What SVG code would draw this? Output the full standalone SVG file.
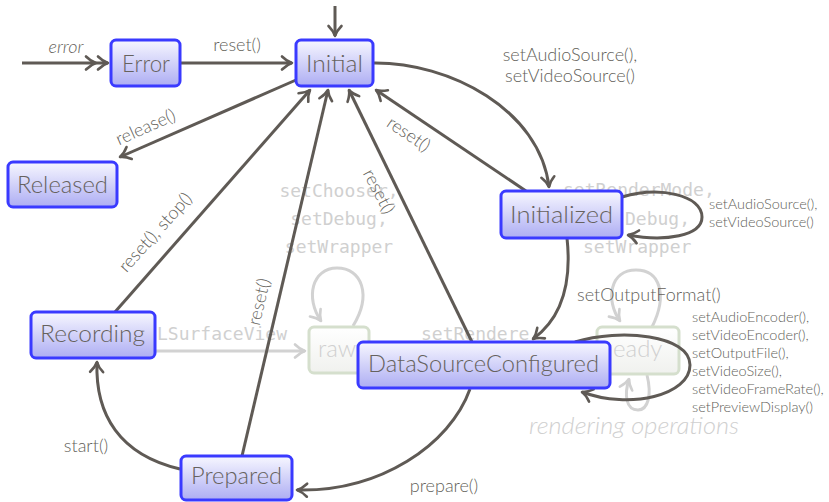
<svg xmlns="http://www.w3.org/2000/svg" width="829" height="502" viewBox="0 0 829 502">
  <defs>
    <linearGradient id="nodeFill" x1="0" y1="0" x2="0" y2="1">
      <stop offset="0" stop-color="#f7f7ff"/>
      <stop offset="1" stop-color="#adadf3"/>
    </linearGradient>
    <linearGradient id="ghostFill" x1="0" y1="0" x2="0" y2="1">
      <stop offset="0" stop-color="#ffffff"/>
      <stop offset="1" stop-color="#f0f1ee"/>
    </linearGradient>
    <marker id="arrow" markerUnits="userSpaceOnUse" markerWidth="20" markerHeight="20" viewBox="-14 -10 18 20" refX="0" refY="0" orient="auto">
      <path d="M -10 -6.5 Q -5 -1.5 0 0 Q -5 1.5 -10 6.5" fill="none" stroke="#5f5a55" stroke-width="2.6" stroke-linecap="round" stroke-linejoin="round"/>
    </marker>
    <marker id="arrowFaint" markerUnits="userSpaceOnUse" markerWidth="20" markerHeight="20" viewBox="-14 -10 18 20" refX="0" refY="0" orient="auto">
      <path d="M -10 -6.5 Q -5 -1.5 0 0 Q -5 1.5 -10 6.5" fill="none" stroke="#d0d0d0" stroke-width="2.6" stroke-linecap="round" stroke-linejoin="round"/>
    </marker>
    <style>
      .edge { fill: none; stroke: #5f5a55; stroke-width: 3; marker-end: url(#arrow); }
      .faint { fill: none; stroke: #d2d2d2; stroke-width: 3; marker-end: url(#arrowFaint); }
      .node rect { fill: url(#nodeFill); stroke: #3a3aff; stroke-width: 3; }
      .node text { font-family: Lato, "Open Sans", sans-serif; font-weight: 300; font-size: 24px; fill: #66625e; text-anchor: middle; }
      .ghost rect { fill: url(#ghostFill); stroke: #d5dfcd; stroke-width: 3; }
      .ghost text, .ghostlbl { font-family: Lato, "Open Sans", sans-serif; font-weight: 300; font-size: 24px; fill: #d0d0d0; }
      .mono { font-family: "DejaVu Sans Mono", "Liberation Mono", monospace; font-size: 18px; fill: #d0d0d0; }
      .lbl { font-family: Lato, "Open Sans", sans-serif; font-weight: 300; font-size: 18px; fill: #635f5a; }
      .mid { text-anchor: middle; }
      .sm { font-size: 14.5px; }
      .it { font-style: italic; }
    </style>
  </defs>

  <rect width="829" height="502" fill="#ffffff"/>

  <!-- background rendering states (faded) -->
  <g id="background-layer">
    <text class="mono mid" x="339" y="197">setChooser,</text>
    <text class="mono mid" x="339" y="225">setDebug,</text>
    <text class="mono mid" x="339" y="253">setWrapper</text>
    <text class="mono" x="563" y="196">setRenderMode,</text>
    <text class="mono" x="625" y="225">Debug,</text>
    <text class="mono" x="583" y="253">setWrapper</text>
    <text class="mono" x="157" y="340">LSurfaceView</text>
    <text class="mono" x="421" y="340">setRendere</text>
    <text class="ghostlbl it mid" x="634" y="434" textLength="210" lengthAdjust="spacingAndGlyphs">rendering operations</text>
    <path class="faint" d="M 156 351 L 305 351"/>
    <path class="faint" d="M 353 326 C 372 295, 362 268, 337 268 C 312 268, 305 298, 321 321"/>
    <path class="faint" d="M 652 327 C 668 295, 660 270, 636 270 C 610 270, 605 300, 620 321"/>
    <path class="faint" d="M 647 375 C 652 395, 648 410, 638 410 C 626 410, 624 395, 629 379"/>
    <g id="raw" class="ghost">
      <rect x="309" y="327" width="60" height="46" rx="5"/>
      <text x="318" y="357">raw</text>
    </g>
    <g id="ready" class="ghost">
      <rect x="597" y="327" width="82" height="47" rx="5"/>
      <text x="613" y="357">eady</text>
    </g>
  </g>

  <!-- transitions -->
  <g id="connectors">
    <path class="edge" d="M 335 6 L 335 36"/>
    <path class="edge" d="M 22 63 L 96 63 L 108 63" marker-mid="url(#arrow)"/>
    <path class="edge" d="M 180 63 L 292 63"/>
    <path class="edge" d="M 296 80 L 120 157"/>
    <path class="edge" d="M 115 312 L 310 90"/>
    <path class="edge" d="M 242 456 L 328 90"/>
    <path class="edge" d="M 472 342 L 349 90"/>
    <path class="edge" d="M 526 191 L 376 90"/>
    <path class="edge" d="M 373 63 C 450 62, 540 110, 549 187"/>
    <path class="edge" d="M 622 197 C 660 186, 702 195, 702 217 C 702 236, 665 242, 628 235"/>
    <path class="edge" d="M 567 238 C 571 275, 566 315, 533 339"/>
    <path class="edge" d="M 575 342 C 620 328, 690 335, 690 365 C 690 395, 630 410, 582 392"/>
    <path class="edge" d="M 470 389 C 450 445, 380 492, 297 490"/>
    <path class="edge" d="M 180 469 C 120 455, 95 415, 97 362"/>

    <text class="lbl it mid" x="66" y="53">error</text>
    <text class="lbl mid" x="237" y="51">reset()</text>
    <text class="lbl mid" transform="translate(146 128) rotate(-24)" y="5">release()</text>
    <text class="lbl mid" transform="translate(156 233) rotate(-48)" y="5">reset(), stop()</text>
    <text class="lbl mid" transform="translate(260 302) rotate(-77)" y="5">reset()</text>
    <text class="lbl mid" transform="translate(378 192) rotate(62)" y="5">reset()</text>
    <text class="lbl mid" transform="translate(408 135) rotate(34)" y="5">reset()</text>
    <text class="lbl mid" x="570" y="61">setAudioSource(),</text>
    <text class="lbl mid" x="570" y="82">setVideoSource()</text>
    <text class="lbl sm" x="709" y="209">setAudioSource(),</text>
    <text class="lbl sm" x="709" y="227">setVideoSource()</text>
    <text class="lbl" x="577" y="301">setOutputFormat()</text>
    <text class="lbl sm" x="692" y="322">setAudioEncoder(),</text>
    <text class="lbl sm" x="692" y="340">setVideoEncoder(),</text>
    <text class="lbl sm" x="692" y="358">setOutputFile(),</text>
    <text class="lbl sm" x="692" y="376">setVideoSize(),</text>
    <text class="lbl sm" x="692" y="394">setVideoFrameRate(),</text>
    <text class="lbl sm" x="692" y="412">setPreviewDisplay()</text>
    <text class="lbl mid" x="444" y="492">prepare()</text>
    <text class="lbl mid" x="86" y="452">start()</text>
  </g>

  <!-- recorder states -->
  <g id="error" class="node">
    <rect x="111" y="40" width="69" height="46" rx="5"/>
    <text x="146" y="72" textLength="48" lengthAdjust="spacingAndGlyphs">Error</text>
  </g>
  <g id="initial" class="node">
    <rect x="296" y="40" width="77" height="46" rx="5"/>
    <text x="334.5" y="72" textLength="57" lengthAdjust="spacingAndGlyphs">Initial</text>
  </g>
  <g id="released" class="node">
    <rect x="8" y="162" width="109" height="45" rx="5"/>
    <text x="62.5" y="193" textLength="91" lengthAdjust="spacingAndGlyphs">Released</text>
  </g>
  <g id="initialized" class="node">
    <rect x="501" y="191" width="121" height="47" rx="5"/>
    <text x="561.5" y="223" textLength="103" lengthAdjust="spacingAndGlyphs">Initialized</text>
  </g>
  <g id="recording" class="node">
    <rect x="31" y="312" width="124" height="46" rx="5"/>
    <text x="92.5" y="342" textLength="105" lengthAdjust="spacingAndGlyphs">Recording</text>
  </g>
  <g id="datasourceconfigured" class="node">
    <rect x="358" y="342" width="252" height="46" rx="5"/>
    <text x="483.5" y="372" textLength="231" lengthAdjust="spacingAndGlyphs">DataSourceConfigured</text>
  </g>
  <g id="prepared" class="node">
    <rect x="181" y="456" width="111" height="44" rx="5"/>
    <text x="236.5" y="484" textLength="91" lengthAdjust="spacingAndGlyphs">Prepared</text>
  </g>
</svg>
